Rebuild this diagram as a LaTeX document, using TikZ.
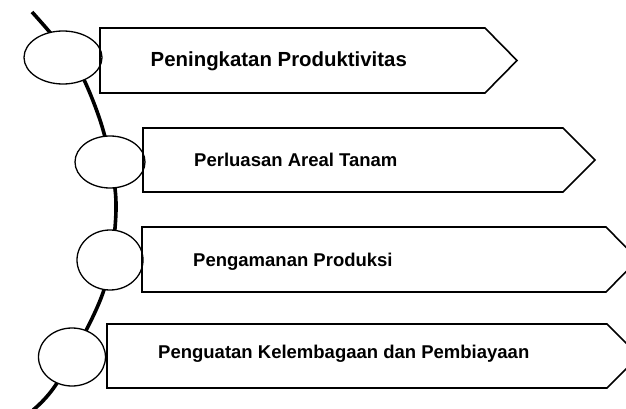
\documentclass[tikz,border=0pt]{standalone}
\usepackage{fontspec}
\setmainfont{Liberation Sans}
\usetikzlibrary{shapes.geometric}
\tikzset{
  panel/.style={draw, line width=1.6pt},
  bead/.style={ellipse, draw, fill=white, line width=1.3pt, inner sep=0pt},
  lbl/.style={anchor=base west, inner sep=0pt, font=\bfseries\fontsize{18.5}{22}\selectfont}
}
\begin{document}
\begin{tikzpicture}[x=1pt,y=-1pt]
	\useasboundingbox (0,0) rectangle (626,409);
	\clip (0,0) rectangle (626,409);

	% the stem
	\draw[line width=3.6pt] plot[smooth, tension=0.6] coordinates {(32,12) (53,36) (78,68) (100,120) (112,170) (116,210) (110,265) (96,310) (57,383) (33,410)};

	\node[bead, minimum width=78, minimum height=53] (e1) at (63,57.5) {};
	\node[bead, minimum width=70, minimum height=52] (e2) at (110,162) {};
	\node[bead, minimum width=66, minimum height=60] (e3) at (110,260) {};
	\node[bead, minimum width=67, minimum height=58] (e4) at (72,357) {};

	\draw[panel] (100,28) -- (485,28) -- (517,60.5) -- (485,93) -- (100,93) -- cycle;
	\draw[panel] (143,128) -- (563,128) -- (595,160) -- (563,192) -- (143,192) -- cycle;
	\draw[panel] (142,227) -- (606,227) -- (638,259.5) -- (606,292) -- (142,292) -- cycle;
	\draw[panel] (107,324) -- (607,324) -- (639,356) -- (607,388) -- (107,388) -- cycle;

	\node[lbl, font=\bfseries\fontsize{20.4}{24}\selectfont] (t1) at (150.5,67) {Peningkatan Produktivitas};
	\node[lbl] (t2) at (194,166) {Perluasan Areal Tanam};
	\node[lbl] (t3) at (193,266) {Pengamanan Produksi};
	\node[lbl] (t4) at (158,358) {Penguatan Kelembagaan dan Pembiayaan};
\end{tikzpicture}
\end{document}
